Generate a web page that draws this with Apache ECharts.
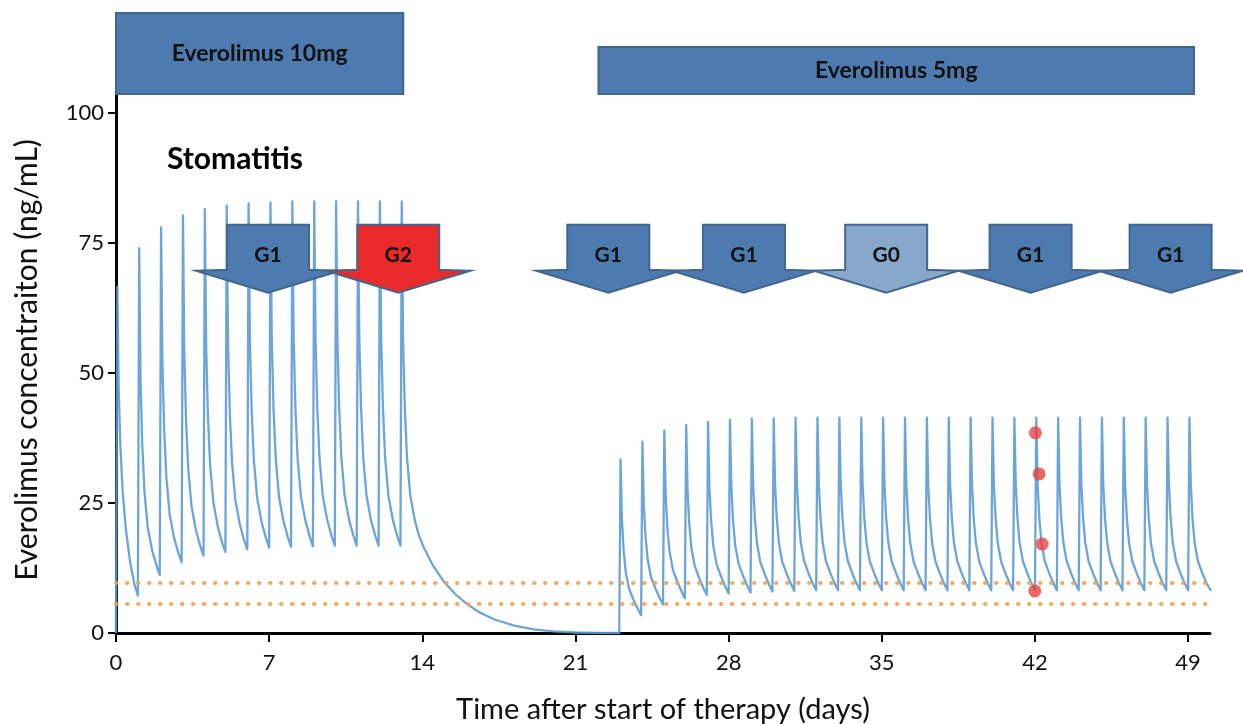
<!DOCTYPE html>
<html><head><meta charset="utf-8">
<script src="https://cdn.jsdelivr.net/npm/echarts@6/dist/echarts.min.js"></script>
<style>html,body{margin:0;padding:0;background:#fff}#c{width:1243px;height:724px}</style>
</head><body><div id="c"></div>
<script>
// ---- tick labels ----
const xTicks = [0, 7, 14, 21, 28, 35, 42, 49];
const yTicks = [0, 25, 50, 75, 100];

// ---- PK curve: time offsets within one daily dosing cycle ----
const cycleOffsets = [0, 0.06, 0.12, 0.2, 0.3, 0.45, 0.65, 0.85];
// rows: [dose day, pre-dose, peak, +0.12d, +0.2d, +0.3d, +0.45d, +0.65d, +0.85d]
const phase1Cycles = [
  [0, 0, 66.6, 47.0, 36.0, 27.5, 20.0, 13.5, 9.2],
  [1, 7.2, 74.0, 48.9, 36.3, 27.2, 20.3, 15.9, 13.0],
  [2, 11.2, 78.0, 52.2, 39.4, 30.0, 22.9, 18.4, 15.4],
  [3, 13.6, 80.3, 54.1, 41.1, 31.6, 24.4, 19.8, 16.7],
  [4, 14.9, 81.5, 55.1, 42.0, 32.4, 25.2, 20.5, 17.4],
  [5, 15.6, 82.2, 55.8, 42.5, 33.0, 25.7, 21.1, 17.9],
  [6, 16.1, 82.6, 56.1, 42.9, 33.3, 26.0, 21.4, 18.3],
  [7, 16.4, 82.8, 56.3, 43.1, 33.5, 26.2, 21.6, 18.5],
  [8, 16.6, 83.0, 56.5, 43.2, 33.6, 26.3, 21.7, 18.6],
  [9, 16.7, 83.0, 56.5, 43.3, 33.7, 26.4, 21.8, 18.7],
  [10, 16.8, 83.0, 56.5, 43.3, 33.7, 26.4, 21.8, 18.7],
  [11, 16.8, 83.0, 56.5, 43.3, 33.7, 26.4, 21.8, 18.7],
  [12, 16.8, 83.0, 56.5, 43.3, 33.7, 26.4, 21.8, 18.7]
];
const washoutDays   = [13.0, 13.06, 13.12, 13.2, 13.3, 13.45, 13.65, 13.85, 14.05, 14.5, 15.0, 15.5, 16.0, 16.6, 17.3, 18.2, 19.1, 20.0, 21.0, 22.0, 23.0];
const washoutValues = [16.8, 83.0, 56.5, 43.3, 33.7, 26.4, 21.8, 18.7, 16.6, 12.9, 9.8, 7.5, 5.7, 4.0, 2.6, 1.4, 0.7, 0.3, 0.1, 0.02, 0];
const phase2Cycles = [
  [23, 0, 33.4, 22.0, 16.0, 11.65, 8.5, 6.4, 4.6],
  [24, 3.4, 36.8, 24.9, 18.6, 14.1, 10.8, 8.6, 6.75],
  [25, 5.5, 38.9, 26.7, 20.2, 15.6, 12.2, 9.9, 8.0],
  [26, 6.7, 40.0, 27.6, 21.0, 16.3, 12.9, 10.6, 8.6],
  [27, 7.3, 40.6, 28.1, 21.5, 16.7, 13.2, 10.9, 8.9],
  [28, 7.6, 41.0, 28.4, 21.7, 16.9, 13.4, 11.1, 9.1],
  [29, 7.8, 41.2, 28.6, 21.9, 17.1, 13.6, 11.3, 9.3],
  [30, 8.0, 41.3, 28.7, 22.0, 17.2, 13.7, 11.4, 9.4],
  [31, 8.1, 41.4, 28.8, 22.1, 17.3, 13.8, 11.5, 9.5],
  [32, 8.2, 41.4, 28.8, 22.1, 17.3, 13.8, 11.5, 9.5],
  [33, 8.2, 41.4, 28.8, 22.1, 17.3, 13.8, 11.5, 9.5],
  [34, 8.2, 41.4, 28.8, 22.1, 17.3, 13.8, 11.5, 9.5],
  [35, 8.2, 41.4, 28.8, 22.1, 17.3, 13.8, 11.5, 9.5],
  [36, 8.2, 41.4, 28.8, 22.1, 17.3, 13.8, 11.5, 9.5],
  [37, 8.2, 41.4, 28.8, 22.1, 17.3, 13.8, 11.5, 9.5],
  [38, 8.2, 41.4, 28.8, 22.1, 17.3, 13.8, 11.5, 9.5],
  [39, 8.2, 41.4, 28.8, 22.1, 17.3, 13.8, 11.5, 9.5],
  [40, 8.2, 41.4, 28.8, 22.1, 17.3, 13.8, 11.5, 9.5],
  [41, 8.2, 41.4, 28.8, 22.1, 17.3, 13.8, 11.5, 9.5],
  [42, 8.2, 41.4, 28.8, 22.1, 17.3, 13.8, 11.5, 9.5],
  [43, 8.2, 41.4, 28.8, 22.1, 17.3, 13.8, 11.5, 9.5],
  [44, 8.2, 41.4, 28.8, 22.1, 17.3, 13.8, 11.5, 9.5],
  [45, 8.2, 41.4, 28.8, 22.1, 17.3, 13.8, 11.5, 9.5],
  [46, 8.2, 41.4, 28.8, 22.1, 17.3, 13.8, 11.5, 9.5],
  [47, 8.2, 41.4, 28.8, 22.1, 17.3, 13.8, 11.5, 9.5],
  [48, 8.2, 41.4, 28.8, 22.1, 17.3, 13.8, 11.5, 9.5],
  [49, 8.2, 41.4, 28.8, 22.1, 17.3, 13.8, 11.5, 9.5]
];
const phase2EndDay = 50.05;
const phase2EndValue = 8.1;

// ---- reference range lines ----
const targetLines = [9.7, 5.6];

// ---- measured concentrations (red dots) ----
const tdmDays   = [41.99, 42.02, 42.19, 42.33];
const tdmValues = [8.1, 38.5, 30.6, 17.1];

// ---- regimen bars ----
const regimenLabels = ['Everolimus 10mg', 'Everolimus 5mg'];
const regimenStart  = [0, 22.05];
const regimenEnd    = [13.13, 49.27];

// ---- stomatitis grade arrows ----
const gradeDays   = [6.95, 12.9, 22.5, 28.7, 35.2, 41.8, 48.2];
const gradeLabels = ['G1', 'G2', 'G1', 'G1', 'G0', 'G1', 'G1'];

// ---------- build ----------
const curve = [];
function addCycles(rows) {
  rows.forEach(r => {
    for (let k = 0; k < cycleOffsets.length; k++) curve.push([r[0] + cycleOffsets[k], r[k + 1]]);
  });
}
addCycles(phase1Cycles);
washoutDays.forEach((d, i) => curve.push([d, washoutValues[i]]));
addCycles(phase2Cycles);
curve.push([phase2EndDay, phase2EndValue]);

const FONT = 'Lato';
const gradeColors = { G0: '#87a8cb', G1: '#4d7baf', G2: '#ea2a2a' };
const boxTopsPx = [13, 47];
const boxBottomPx = 94;
const arrowTopValue = 78.5;

const chart = echarts.init(document.getElementById('c'), null, { renderer: 'canvas' });
chart.setOption({
  animation: false,
  backgroundColor: '#fff',
  grid: { left: 116, right: 33, top: 87, bottom: 91, containLabel: false, outerBoundsMode: 'none' },
  xAxis: {
    type: 'value', min: 0, max: 50, interval: 7,
    name: 'Time after start of therapy (days)', nameLocation: 'middle', nameGap: 62,
    nameTextStyle: { fontFamily: FONT, fontSize: 29, color: '#111' },
    axisLine: { show: true, onZero: false, lineStyle: { color: '#000', width: 3 } },
    axisTick: { show: true, length: 9, lineStyle: { color: '#000', width: 2 }, customValues: xTicks },
    axisLabel: { customValues: xTicks, fontFamily: FONT, fontSize: 22, color: '#111', margin: 19 },
    splitLine: { show: false }
  },
  yAxis: {
    type: 'value', min: 0, max: 105, interval: 25,
    name: 'Everolimus concentraiton (ng/mL)', nameLocation: 'middle', nameGap: 74,
    nameTextStyle: { fontFamily: FONT, fontSize: 30, color: '#111' },
    axisLine: { show: true, lineStyle: { color: '#000', width: 3 } },
    axisTick: { show: true, length: 8, lineStyle: { color: '#000', width: 2 }, customValues: yTicks },
    axisLabel: { customValues: yTicks, fontFamily: FONT, fontSize: 22, color: '#111', margin: 12 },
    splitLine: { show: false }
  },
  graphic: [{
    type: 'text', left: 167, top: 144, z: 20,
    style: { text: 'Stomatitis', fontFamily: FONT, fontWeight: 'bold', fontSize: 30, fill: '#000' }
  }],
  series: [
    {
      type: 'line', data: [], z: 1, silent: true,
      markLine: {
        silent: true, symbol: ['none', 'none'], label: { show: false },
        lineStyle: { color: '#f5a04a', width: 4, type: [0.5, 10.5], cap: 'round', opacity: 0.9 },
        data: targetLines.map(v => ({ yAxis: v }))
      }
    },
    {
      type: 'line', data: curve, showSymbol: false, z: 3, clip: true,
      lineStyle: { color: '#5b9bd5', width: 2.3, opacity: 0.9, join: 'round' }
    },
    {
      type: 'scatter', data: tdmDays.map((d, i) => [d, tdmValues[i]]), z: 6,
      symbol: 'circle', symbolSize: 13, itemStyle: { color: '#e8413f' }
    },
    {
      type: 'custom', z: 10, clip: false, silent: true,
      data: gradeDays.map((d, i) => [d, i]),
      encode: { x: 0 },
      renderItem: (params, api) => {
        const i = params.dataIndex;
        const c = api.coord([api.value(0), arrowTopValue]);
        const cx = c[0], t = c[1];
        return {
          type: 'group', children: [
            { type: 'polygon', shape: { points: [[cx - 41, t], [cx + 41, t], [cx + 41, t + 45], [cx + 72, t + 46], [cx, t + 68], [cx - 72, t + 46], [cx - 41, t + 45]] },
              style: { fill: gradeColors[gradeLabels[i]], stroke: '#41668f', lineWidth: 2, lineJoin: 'miter' } },
            { type: 'text', style: { text: gradeLabels[i], x: cx, y: t + 30, align: 'center', verticalAlign: 'middle',
              fontFamily: FONT, fontWeight: 'bold', fontSize: 21, fill: '#111' } }
          ]
        };
      }
    },
    {
      type: 'custom', z: 10, clip: false, silent: true,
      data: regimenStart.map((s, i) => [s, regimenEnd[i], i]),
      encode: { x: [0, 1] },
      renderItem: (params, api) => {
        const i = params.dataIndex;
        const x0 = api.coord([api.value(0), 0])[0];
        const x1 = api.coord([api.value(1), 0])[0];
        const top = boxTopsPx[i];
        return {
          type: 'group', children: [
            { type: 'rect', shape: { x: x0, y: top, width: x1 - x0, height: boxBottomPx - top },
              style: { fill: '#4d7baf', stroke: '#41668f', lineWidth: 2 } },
            { type: 'text', style: { text: regimenLabels[i], x: (x0 + x1) / 2, y: (top + boxBottomPx) / 2, align: 'center', verticalAlign: 'middle',
              fontFamily: FONT, fontWeight: 'bold', fontSize: 23, fill: '#111' } }
          ]
        };
      }
    }
  ]
});
</script></body></html>
